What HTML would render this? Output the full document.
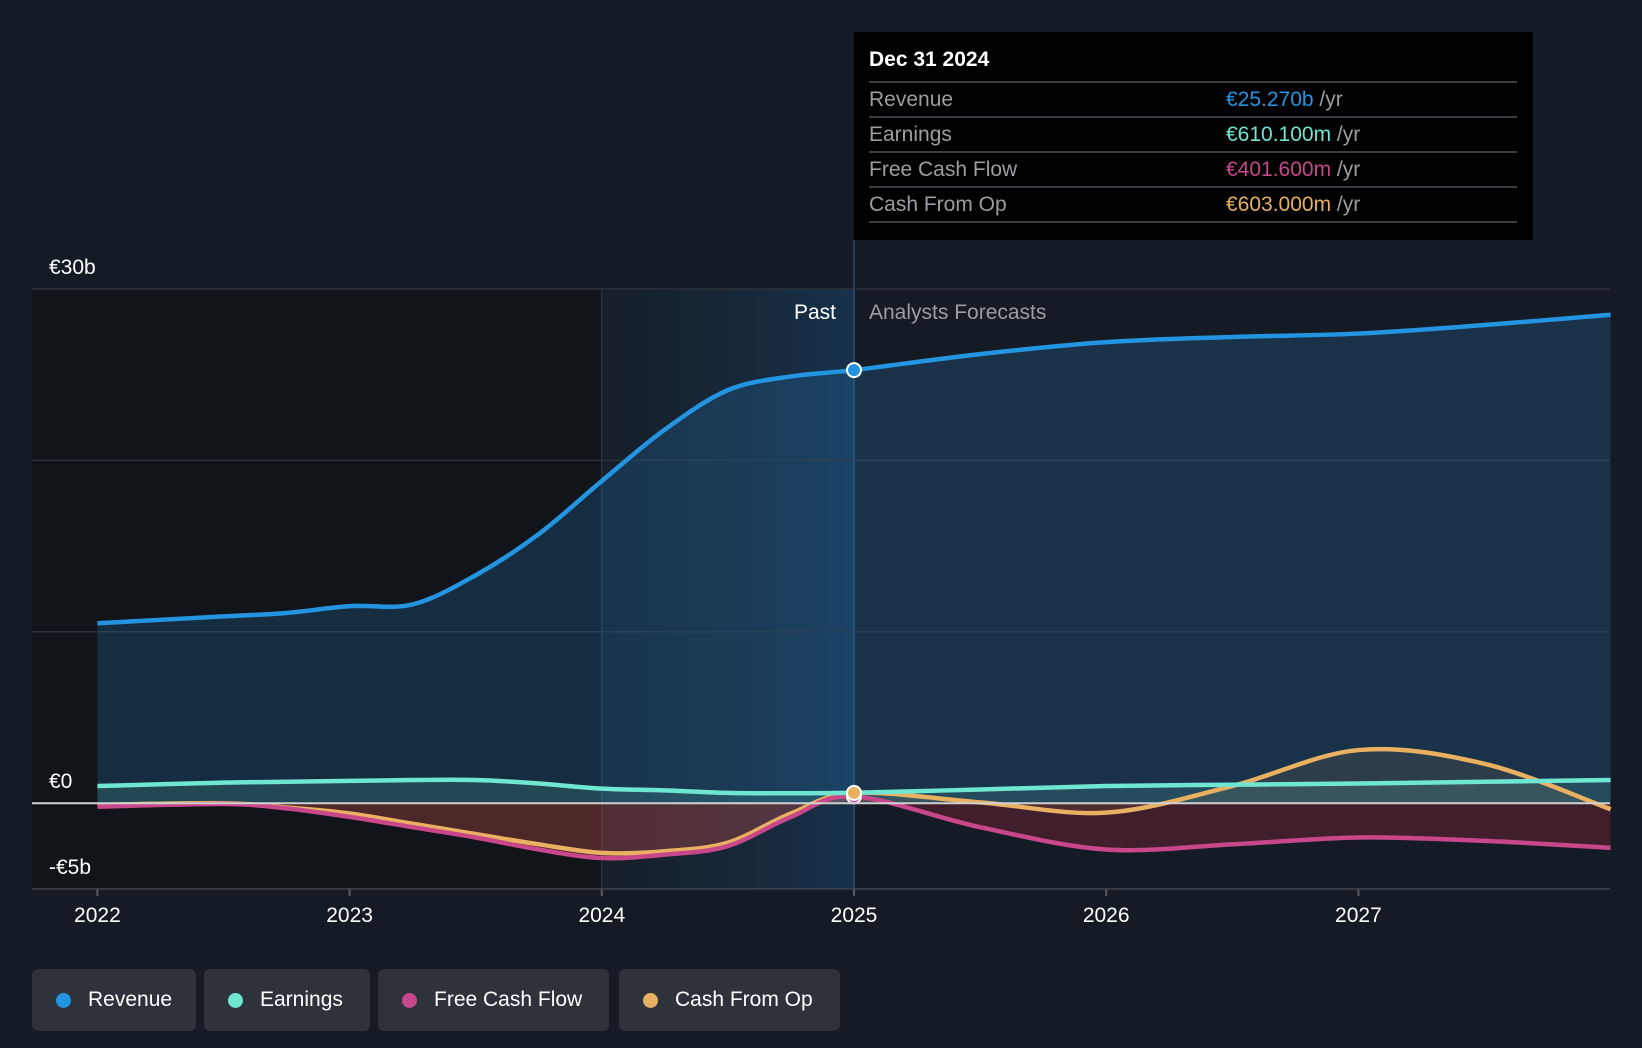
<!DOCTYPE html>
<html><head><meta charset="utf-8">
<style>
body{margin:0;width:1642px;height:1048px;background:#151b24;font-family:"Liberation Sans",sans-serif;overflow:hidden;position:relative}
.lg{position:absolute;top:969px;height:62px;background:#2d323b;border-radius:6px;color:#fff;font-size:21px;line-height:62px;box-sizing:border-box;padding-left:56px}
.lg i{position:absolute;left:24px;top:24px;width:15px;height:15px;border-radius:50%}
.tt{position:absolute;left:854px;top:32px;width:679px;height:208px;background:#000}
.row{position:absolute;left:15px;width:648px;height:34px;border-top:2px solid #3a3d42;font-size:21px;color:#9a9da2;line-height:34px}
.row span.v{position:absolute;left:357px}
</style></head><body>
<svg id="c" width="1642" height="1048" style="position:absolute;left:0;top:0">
<defs>
<linearGradient id="pg" x1="0" x2="1"><stop offset="0" stop-color="#1a2c3e" stop-opacity="0.2"/><stop offset="1" stop-color="#173450" stop-opacity="0.9"/></linearGradient>
</defs>
<rect x="32" y="289" width="569" height="600" fill="#111419"/>
<rect x="601" y="289" width="254" height="600" fill="url(#pg)"/>
<g id="grid"></g><g id="areas"></g><g id="lines"></g><g id="ax"></g>
</svg>
<div class="tt">
<div style="position:absolute;left:15px;top:16px;color:#fff;font-size:21px;font-weight:bold">Dec 31 2024</div>
<div class="row" style="top:49px">Revenue<span class="v"><span style="color:#2394e0">€25.270b</span> /yr</span></div>
<div class="row" style="top:84px">Earnings<span class="v"><span style="color:#6ee6d2">€610.100m</span> /yr</span></div>
<div class="row" style="top:119px">Free Cash Flow<span class="v"><span style="color:#c8478a">€401.600m</span> /yr</span></div>
<div class="row" style="top:154px">Cash From Op<span class="v"><span style="color:#e8b060">€603.000m</span> /yr</span></div>
<div class="row" style="top:189px;height:0"></div>
</div>
<div style="position:absolute;right:806px;top:301px;color:#fff;font-size:21px">Past</div>
<div style="position:absolute;left:869px;top:301px;color:#9a9da2;font-size:21px">Analysts Forecasts</div>
<div class="lg" style="left:32px;width:164px"><i style="background:#2394e0"></i>Revenue</div>
<div class="lg" style="left:204px;width:166px"><i style="background:#6ee6d2"></i>Earnings</div>
<div class="lg" style="left:378px;width:231px"><i style="background:#c8478a"></i>Free Cash Flow</div>
<div class="lg" style="left:619px;width:221px"><i style="background:#e8b060"></i>Cash From Op</div>
<script>
const years=[2022,2022.5,2022.75,2023,2023.25,2023.5,2023.75,2024,2024.25,2024.5,2024.75,2025,2025.5,2026,2026.5,2027,2027.5,2028];
const revenue=[10.5,10.9,11.1,11.5,11.6,13.3,15.7,18.8,21.8,24.1,24.9,25.27,26.2,26.9,27.2,27.4,27.9,28.5];
const earnings=[1.0,1.2,1.25,1.3,1.35,1.35,1.15,0.85,0.75,0.6,0.58,0.61,0.8,1.0,1.08,1.15,1.25,1.35];
const fcf=[-0.2,-0.05,-0.3,-0.8,-1.4,-2.0,-2.7,-3.2,-3.0,-2.5,-0.8,0.4,-1.4,-2.7,-2.4,-2.0,-2.2,-2.6];
const cfo=[-0.1,0,-0.25,-0.6,-1.2,-1.8,-2.4,-2.9,-2.8,-2.3,-0.6,0.6,0.05,-0.55,1.0,3.1,2.3,-0.35];
const yTicks=[30,20,10,0,-5];
const yTickLabels=["€30b","","","€0","-€5b"];
const xTicks=[2022,2023,2024,2025,2026,2027];
const X=v=>97.4+(v-2022)*252.2, Y=v=>803.2-v*17.14;
const NS="http://www.w3.org/2000/svg";
function mk(t,a,p){const e=document.createElementNS(NS,t);for(const k in a)e.setAttribute(k,a[k]);p.appendChild(e);return e;}
function path(vals){const p=years.map((y,i)=>[X(y),Y(vals[i])]);let d="M"+p[0];for(let i=0;i<p.length-1;i++){const p0=p[i-1]||p[i],p1=p[i],p2=p[i+1],p3=p[i+2]||p2;d+=`C${p1[0]+(p2[0]-p0[0])/6},${p1[1]+(p2[1]-p0[1])/6} ${p2[0]-(p3[0]-p1[0])/6},${p2[1]-(p3[1]-p1[1])/6} ${p2[0]},${p2[1]}`;}return d;}
const g=document.getElementById('grid'),ar=document.getElementById('areas'),ln=document.getElementById('lines'),ax=document.getElementById('ax');
yTicks.forEach((t,i)=>{const l=mk('line',{x1:32,x2:1610,y1:Y(t),y2:Y(t),stroke:t==0?'#d0d0d0':(t==-5?'#3e434b':'#2c3139'),'stroke-width':t==0?2:1.5},t==0?ax:g);


if(yTickLabels[i]){const tx=mk('text',{x:49,y:Y(t)-15,fill:'#fff','font-size':21},ax);tx.textContent=yTickLabels[i];

}});
xTicks.forEach(t=>{const tx=mk('text',{x:X(t),y:922,fill:'#fff','font-size':21,'text-anchor':'middle'},ax);tx.textContent=t;


mk('line',{x1:X(t),x2:X(t),y1:889,y2:896,stroke:'#555a62','stroke-width':2},ax);});
mk('line',{x1:X(2024),x2:X(2024),y1:289,y2:889,stroke:'#2a3a4c','stroke-width':1},g);
const vl=mk('line',{x1:X(2025),x2:X(2025),y1:240,y2:889,stroke:'#2b4a66','stroke-width':1.5},g);


const base=`L${X(2028)},${Y(0)}L${X(2022)},${Y(0)}Z`;
const series=[['revenue',revenue,'#2394e0','rgba(35,110,170,0.28)'],['earnings',earnings,'#6ee6d2','rgba(110,230,210,0.15)'],['fcf',fcf,'#c8478a','rgba(180,40,60,0.28)'],['cfo',cfo,'#e8b060','rgba(200,150,90,0.12)']];
series.forEach(s=>{const a=mk('path',{d:path(s[1])+base,fill:s[3]},ar);

});
series.slice().reverse().forEach(s=>{const l=mk('path',{d:path(s[1]),fill:'none',stroke:s[2],'stroke-width':4.5},ln);

});
[[revenue,'#2394e0'],[fcf,'#c8478a'],[cfo,'#e8b060']].forEach(s=>{const c=mk('circle',{cx:X(2025),cy:Y(s[0][11]),r:7,fill:s[1],stroke:'#fff','stroke-width':2},ln);

});
</script>
</body></html>
